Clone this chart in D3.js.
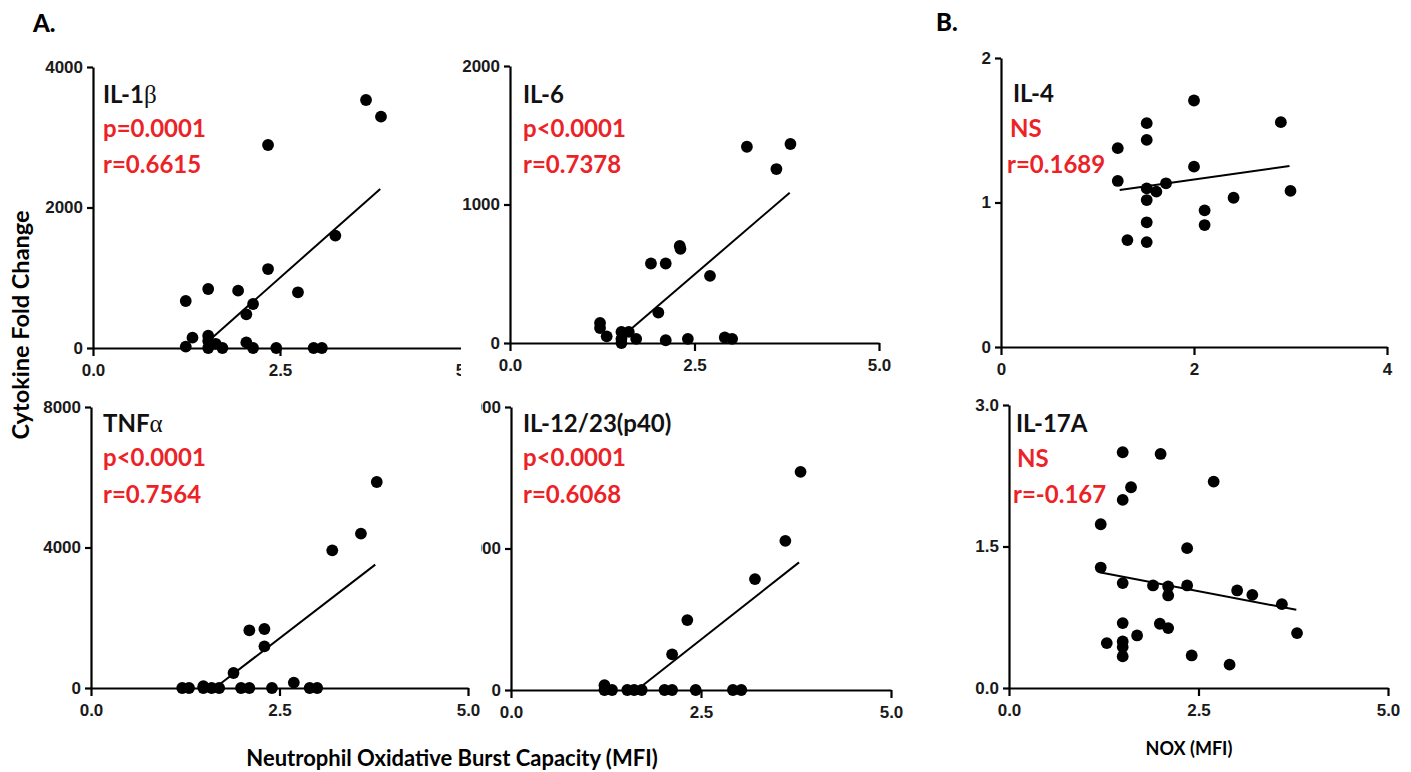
<!DOCTYPE html>
<html>
<head>
<meta charset="utf-8">
<script src="https://cdn.jsdelivr.net/npm/d3@7/dist/d3.min.js"></script>
<style>
  html, body { margin: 0; padding: 0; background: #fff; }
  svg { display: block; }
</style>
</head>
<body>
<svg id="chart" width="1411" height="772"></svg>
<script>
// ---------------- DATA ----------------
// IL-1beta vs neutrophil oxidative burst (MFI)
const il1bX = [3.65, 3.85, 2.34, 3.24, 2.34, 1.54, 1.94, 2.74, 1.24, 2.14, 2.05, 1.33, 1.54, 1.54, 1.24, 1.54, 1.64, 1.73, 2.05, 2.14, 2.45, 2.95, 3.06];
const il1bY = [3530, 3293, 2890, 1600, 1124, 840, 816, 793, 669, 626, 480, 147, 175, 100, 20, 0, 60, 0, 80, 0, 0, 0, 0];
const il1bFit = [[1.56, 114], [3.84, 2265]];

// IL-6
const il6X = [3.21, 3.80, 3.61, 2.30, 2.31, 1.91, 2.11, 2.71, 2.01, 1.22, 1.22, 1.31, 1.51, 1.61, 1.51, 1.51, 1.71, 2.11, 2.41, 2.91, 3.01];
const il6Y = [1417, 1437, 1256, 701, 680, 574, 574, 485, 220, 145, 108, 48, 80, 80, 0, 30, 30, 20, 30, 40, 30];
const il6Fit = [[1.62, 92], [3.79, 1085]];

// IL-4 vs NOX (MFI)
const il4X = [2.00, 2.90, 1.51, 1.51, 1.21, 2.00, 1.21, 1.51, 1.61, 1.71, 1.51, 3.00, 2.41, 2.11, 2.11, 1.51, 1.31, 1.51];
const il4Y = [1.706, 1.556, 1.549, 1.433, 1.376, 1.248, 1.149, 1.098, 1.075, 1.133, 1.017, 1.080, 1.033, 0.946, 0.844, 0.863, 0.740, 0.726];
const il4Fit = [[1.23, 1.087], [2.99, 1.253]];

// TNF-alpha
const tnfX = [3.79, 3.58, 3.20, 2.10, 2.30, 2.30, 1.89, 2.69, 1.21, 1.30, 1.49, 1.60, 1.70, 1.99, 2.10, 2.40, 2.90, 3.00, 1.49];
const tnfY = [5865, 4396, 3920, 1643, 1680, 1187, 427, 154, 0, 0, 0, 0, 0, 0, 0, 0, 0, 0, 50];
const tnfFit = [[1.69, 77], [3.77, 3513]];

// IL-12/23 (p40)
const il12X = [3.81, 3.61, 3.21, 2.32, 2.12, 1.23, 1.33, 1.53, 1.62, 1.72, 2.02, 2.12, 2.43, 2.92, 3.03, 1.23];
const il12Y = [1542, 1054, 784, 494, 252, 0, 0, 0, 0, 0, 0, 0, 0, 0, 0, 34];
const il12Fit = [[1.74, 35], [3.79, 902]];

// IL-17A vs NOX (MFI)
const il17X = [1.50, 2.00, 2.70, 1.61, 1.50, 1.21, 2.35, 1.21, 1.50, 1.90, 2.10, 2.10, 2.35, 3.01, 3.21, 3.60, 3.80, 1.50, 1.99, 2.10, 1.69, 1.29, 1.50, 1.50, 1.50, 2.41, 2.91];
const il17Y = [2.499, 2.481, 2.188, 2.128, 1.994, 1.736, 1.482, 1.277, 1.112, 1.087, 1.076, 0.981, 1.087, 1.034, 0.988, 0.889, 0.582, 0.688, 0.681, 0.635, 0.557, 0.476, 0.494, 0.434, 0.335, 0.345, 0.247];
const il17Fit = [[1.21, 1.224], [3.79, 0.829]];

// tick values
const xTicksA = [0, 2.5, 5];
const xTicksNox4 = [0, 2, 4];
const xTicksNox5 = [0, 2.5, 5];
const yTicksIL1b = [0, 2000, 4000];
const yTicksIL6 = [0, 1000, 2000];
const yTicksIL4 = [0, 1, 2];
const yTicksTNF = [0, 4000, 8000];
const yTicksIL12 = [0, 1000, 2000];
const yTicksIL17 = [0, 1.5, 3];

// annotation texts
const names = ["IL-1", "IL-6", "IL-4", "TNF", "IL-12/23(p40)", "IL-17A"];
const greek = ["β", "", "", "α", "", ""];
const pTexts = ["p=0.0001", "p<0.0001", "NS", "p<0.0001", "p<0.0001", "NS"];
const rTexts = ["r=0.6615", "r=0.7378", "r=0.1689", "r=0.7564", "r=0.6068", "r=-0.167"];

const panelLetters = ["A.", "B."];
const yTitle = "Cytokine Fold Change";
const xTitleA = "Neutrophil Oxidative Burst Capacity (MFI)";
const xTitleB = "NOX (MFI)";

// ---------------- LAYOUT ----------------
const panels = [
  { xs: il1bX, ys: il1bY, fit: il1bFit, xDom: [0, 5], yDom: [0, 4000], xT: xTicksA, yT: yTicksIL1b, xF: d3.format(".1f"), yF: d3.format("d"),
    xR: [93, 467], yR: [348, 67], clip: [0, 40, 461, 350],
    txt: { nx: 103, ny: 103, px: 103, py: 137, rx: 103, ry: 173 } },
  { xs: il6X, ys: il6Y, fit: il6Fit, xDom: [0, 5], yDom: [0, 2000], xT: xTicksA, yT: yTicksIL6, xF: d3.format(".1f"), yF: d3.format("d"),
    xR: [510, 879], yR: [343, 66], clip: [440, 40, 480, 350],
    txt: { nx: 523, ny: 103, px: 523, py: 137, rx: 523, ry: 173 } },
  { xs: il4X, ys: il4Y, fit: il4Fit, xDom: [0, 4], yDom: [0, 2], xT: xTicksNox4, yT: yTicksIL4, xF: d3.format("d"), yF: d3.format("d"),
    xR: [1001, 1387], yR: [347, 58], clip: [930, 40, 481, 350],
    txt: { nx: 1013, ny: 102, px: 1010, py: 137, rx: 1007, ry: 173 } },
  { xs: tnfX, ys: tnfY, fit: tnfFit, xDom: [0, 5], yDom: [0, 8000], xT: xTicksA, yT: yTicksTNF, xF: d3.format(".1f"), yF: d3.format("d"),
    xR: [91, 468], yR: [688, 407], clip: [0, 390, 480, 340],
    txt: { nx: 103, ny: 432, px: 103, py: 466, rx: 103, ry: 503 } },
  { xs: il12X, ys: il12Y, fit: il12Fit, xDom: [0, 5], yDom: [0, 2000], xT: xTicksA, yT: yTicksIL12, xF: d3.format(".1f"), yF: d3.format("d"),
    xR: [511, 891], yR: [690, 407], clip: [481, 390, 440, 340],
    txt: { nx: 523, ny: 432, px: 523, py: 466, rx: 523, ry: 503 } },
  { xs: il17X, ys: il17Y, fit: il17Fit, xDom: [0, 5], yDom: [0, 3], xT: xTicksNox5, yT: yTicksIL17, xF: d3.format(".1f"), yF: d3.format(".1f"),
    xR: [1009, 1388], yR: [688, 405], clip: [930, 390, 481, 340],
    txt: { nx: 1016, ny: 432, px: 1017, py: 467, rx: 1013, ry: 503 } }
];

const RED = "#ec2227";
const TICK_FONT = "'Liberation Sans', Arial, sans-serif";
const LABEL_FONT = "Lato, 'Open Sans', sans-serif";
const ANN_SIZE = "24px";

const svg = d3.select("#chart");
svg.append("rect").attr("width", 1411).attr("height", 772).attr("fill", "#fff");
const defs = svg.append("defs");

panels.forEach((p, i) => {
  defs.append("clipPath").attr("id", "clip" + i)
    .append("rect").attr("x", p.clip[0]).attr("y", p.clip[1]).attr("width", p.clip[2]).attr("height", p.clip[3]);

  const g = svg.append("g").attr("clip-path", `url(#clip${i})`);
  const x = d3.scaleLinear().domain(p.xDom).range(p.xR);
  const y = d3.scaleLinear().domain(p.yDom).range(p.yR);

  // axes
  const yAxis = d3.axisLeft(y).tickValues(p.yT).tickFormat(p.yF).tickSize(6).tickSizeOuter(0).tickPadding(4);
  const xAxis = d3.axisBottom(x).tickValues(p.xT).tickFormat(p.xF).tickSize(8).tickSizeOuter(0).tickPadding(8);

  const ga = g.append("g").attr("transform", `translate(${p.xR[0]},0)`).call(yAxis);
  const gb = g.append("g").attr("transform", `translate(0,${p.yR[0]})`).call(xAxis);
  [ga, gb].forEach(a => {
    a.attr("font-size", null).attr("font-family", null);
    a.selectAll("path, line").attr("stroke", "#000").attr("stroke-width", 2.2);
    a.selectAll("text").attr("fill", "#1a1a1a").style("font-family", TICK_FONT)
      .style("font-weight", "bold").style("font-size", "17px");
  });

  // regression line
  g.append("line")
    .attr("x1", x(p.fit[0][0])).attr("y1", y(p.fit[0][1]))
    .attr("x2", x(p.fit[1][0])).attr("y2", y(p.fit[1][1]))
    .attr("stroke", "#000").attr("stroke-width", 2);

  // points
  const pts = p.xs.map((v, k) => [v, p.ys[k]]);
  g.selectAll("circle.pt").data(pts).enter().append("circle")
    .attr("class", "pt")
    .attr("cx", d => x(d[0])).attr("cy", d => y(d[1])).attr("r", 5.9).attr("fill", "#000");

  // annotations
  const t = g.append("text").attr("x", p.txt.nx).attr("y", p.txt.ny)
    .style("font-family", LABEL_FONT).style("font-weight", "bold").style("font-size", ANN_SIZE).attr("fill", "#111");
  t.append("tspan").text(names[i]);
  if (greek[i]) t.append("tspan").text(greek[i]).style("font-family", "'Liberation Serif', 'DejaVu Serif', serif").style("font-weight", "normal").style("font-size", "25px");

  g.append("text").attr("x", p.txt.px).attr("y", p.txt.py).text(pTexts[i])
    .style("font-family", LABEL_FONT).style("font-weight", "bold").style("font-size", ANN_SIZE).attr("fill", RED);
  g.append("text").attr("x", p.txt.rx).attr("y", p.txt.ry).text(rTexts[i])
    .style("font-family", LABEL_FONT).style("font-weight", "bold").style("font-size", ANN_SIZE).attr("fill", RED);
});

// panel letters
svg.append("text").attr("x", 33).attr("y", 32).text(panelLetters[0])
  .style("font-family", LABEL_FONT).style("font-weight", "900").style("font-size", "24px").attr("fill", "#000");
svg.append("text").attr("x", 936).attr("y", 31).text(panelLetters[1])
  .style("font-family", LABEL_FONT).style("font-weight", "900").style("font-size", "24px").attr("fill", "#000");

// axis titles
svg.append("text").attr("transform", "translate(29,325) rotate(-90)").attr("text-anchor", "middle").text(yTitle)
  .style("font-family", LABEL_FONT).style("font-weight", "bold").style("font-size", "23.5px").attr("fill", "#000");
svg.append("text").attr("x", 452).attr("y", 766).attr("text-anchor", "middle").text(xTitleA)
  .style("font-family", LABEL_FONT).style("font-weight", "bold").style("font-size", "22px").attr("fill", "#000");
svg.append("text").attr("x", 1189).attr("y", 755).attr("text-anchor", "middle").text(xTitleB)
  .style("font-family", LABEL_FONT).style("font-weight", "bold").style("font-size", "18px").attr("fill", "#000");
</script>
</body>
</html>
